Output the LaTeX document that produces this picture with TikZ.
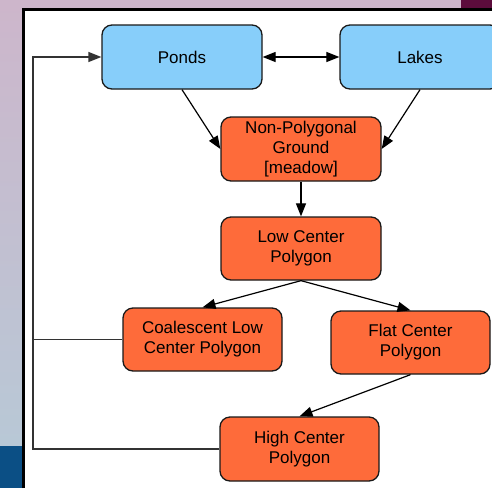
\documentclass[tikz,border=0pt]{standalone}
\usepackage{fontspec}
\setmainfont{Liberation Sans}
\usetikzlibrary{arrows.meta}
\definecolor{pondblue}{HTML}{87CEFA}
\definecolor{polyorange}{HTML}{FE6B3A}
\definecolor{bgpinktop}{HTML}{CDB6CB}
\definecolor{bgbluebot}{HTML}{B8C8D6}
\definecolor{bgdarkblue}{HTML}{0B4F85}
\definecolor{bgmaroon}{HTML}{5C0C3C}
\newcommand\boxlines[1]{\raisebox{-2pt}{\begin{tabular}{@{}c@{}}#1\end{tabular}}}
\tikzset{
  box/.style={draw=black!90, line width=1.3pt, rounded corners=10pt,
    font=\fontsize{17}{20}\selectfont, inner sep=0pt, minimum width=160pt, minimum height=64pt},
  water/.style={box, fill=pondblue},
  poly/.style={box, fill=polyorange},
  edge/.style={line width=1.2pt, draw=black, -{Triangle[length=13pt,width=10pt]}},
  both/.style={line width=1.2pt, draw=black, {Triangle[length=13pt,width=10pt]}-{Triangle[length=13pt,width=10pt]}},
  feed/.style={line width=1.4pt, draw=black!80}
}
\begin{document}
\begin{tikzpicture}[x=1pt,y=-1pt]
\clip (0,0) rectangle (492,488);
% background
\shade[top color=bgpinktop, bottom color=bgbluebot] (0,0) rectangle (23,446);
\fill[bgdarkblue] (0,446) rectangle (23,488);
\fill[bgpinktop] (0,0) rectangle (461,9);
\fill[bgmaroon] (461,0) rectangle (492,9);
\fill[white] (23,9) rectangle (492,488);
\draw[line width=3pt] (23.5,488) -- (23.5,9.5) -- (492,9.5);
% nodes
\node[water] (ponds) at (182,57) {Ponds};
\node[water] (lakes) at (420,57) {Lakes};
\node[poly] (nonpoly) at (301,149) {\boxlines{Non-Polygonal\\Ground\\{[meadow]}}};
\node[poly, minimum height=63pt] (low) at (301,248.5) {\boxlines{Low Center\\Polygon}};
\node[poly, minimum height=63pt, minimum width=159pt] (coal) at (202.5,339.5) {\boxlines{Coalescent Low\\Center Polygon}};
\node[poly, minimum height=63pt, minimum width=159pt] (flat) at (410.5,342.5) {\boxlines{Flat Center\\Polygon}};
\node[poly, minimum width=159pt] (high) at (299.5,449) {\boxlines{High Center\\Polygon}};
% edges
\draw[both] (ponds.east) -- (lakes.west);
\draw[edge] (ponds.south) -- (nonpoly.west);
\draw[edge] (lakes.south) -- (nonpoly.east);
\draw[edge] (nonpoly.south) -- (low.north);
\draw[edge] (low.south) -- (coal.north);
\draw[edge] (low.south) -- (flat.north);
\draw[edge] (flat.south) -- (high.north);
% feedback loop
\coordinate (corner) at (33,449);
\draw[feed] (coal.west) -- (coal.west -| corner);
\draw[feed, -{Triangle[length=13pt,width=10pt]}] (high.west) -- (corner) |- (ponds.west);
\end{tikzpicture}
\end{document}
